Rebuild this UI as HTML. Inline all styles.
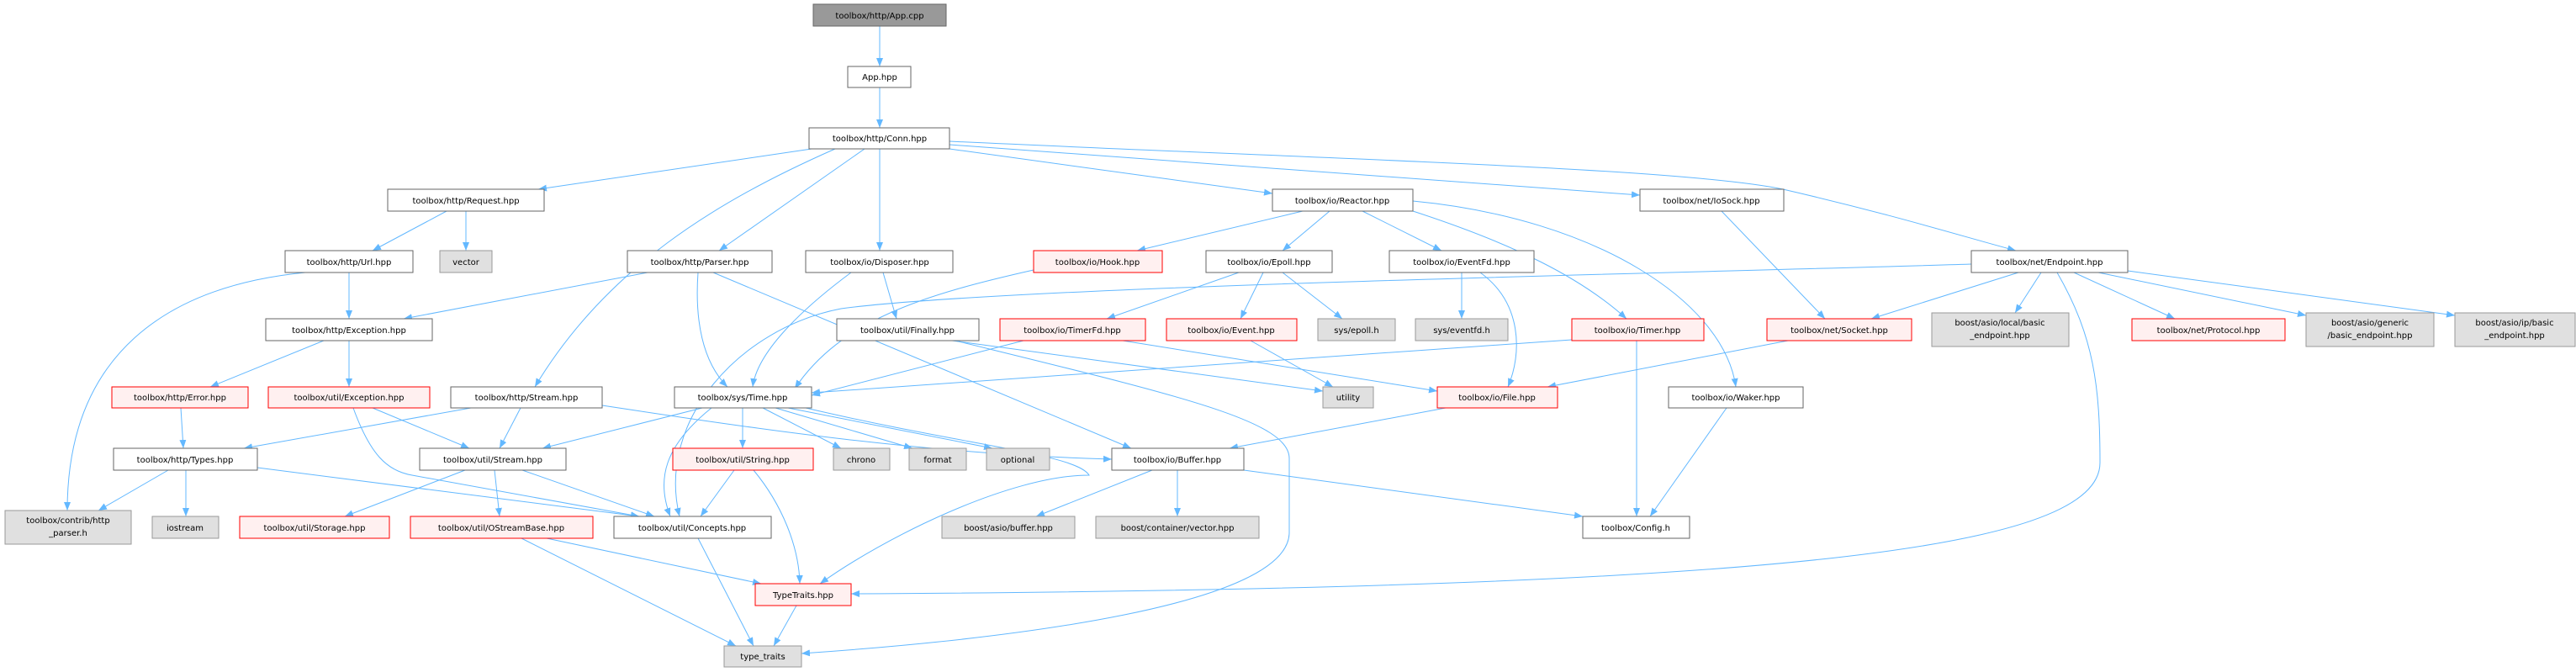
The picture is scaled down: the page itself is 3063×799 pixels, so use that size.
<!DOCTYPE html>
<html><head><meta charset="utf-8"><style>
html,body{margin:0;padding:0;background:#fff}
svg{display:block}
text{font-family:"DejaVu Sans","Liberation Sans",sans-serif;font-size:10px;fill:#000}
.w{fill:#fff;stroke:#666;stroke-width:1}
.g{fill:#e0e0e0;stroke:#999;stroke-width:1}
.r{fill:#fff0f0;stroke:#f00;stroke-width:1}
.e path{fill:none;stroke:#63b8ff;stroke-width:1}
</style></head><body>
<svg width="3063" height="799" viewBox="0 0 3063 799" xmlns="http://www.w3.org/2000/svg">
<defs><marker id="a" markerWidth="10" markerHeight="8" refX="10" refY="4" orient="auto" markerUnits="userSpaceOnUse"><path d="M0,0 L10,4 L0,8 Z" fill="#63b8ff"/></marker></defs>
<g class="e" marker-end="url(#a)">
<path d="M1046,31 L1046,79" marker-end="url(#a)"/>
<path d="M1046,104 L1046,152" marker-end="url(#a)"/>
<path d="M965,177 L640,225" marker-end="url(#a)"/>
<path d="M993,177 C850,240 720,320 636,460" marker-end="url(#a)"/>
<path d="M1028,177 L855,298" marker-end="url(#a)"/>
<path d="M1046,177 L1046,298" marker-end="url(#a)"/>
<path d="M1129,177 L1513,230" marker-end="url(#a)"/>
<path d="M1129,172 L1950,232" marker-end="url(#a)"/>
<path d="M1129,168 C1600,190 2000,200 2120,225 C2250,255 2330,280 2397,298" marker-end="url(#a)"/>
<path d="M531,251 L443,298" marker-end="url(#a)"/>
<path d="M554,251 L554,298" marker-end="url(#a)"/>
<path d="M415,324 L415,379" marker-end="url(#a)"/>
<path d="M363,324 C200,340 80,420 80,607" marker-end="url(#a)"/>
<path d="M770,324 L480,379" marker-end="url(#a)"/>
<path d="M830,324 C826,380 835,430 865,460" marker-end="url(#a)"/>
<path d="M848,324 L1345,533" marker-end="url(#a)"/>
<path d="M1012,324 C950,370 900,420 895,460" marker-end="url(#a)"/>
<path d="M1050,324 L1066,379" marker-end="url(#a)"/>
<path d="M1229,321 C1100,350 1000,380 945,462" marker-end="url(#a)"/>
<path d="M1473,324 L1316,379" marker-end="url(#a)"/>
<path d="M1502,324 L1475,379" marker-end="url(#a)"/>
<path d="M1525,324 L1596,379" marker-end="url(#a)"/>
<path d="M1738,324 L1738,379" marker-end="url(#a)"/>
<path d="M1760,324 C1810,360 1810,420 1793,460" marker-end="url(#a)"/>
<path d="M1549,251 L1352,298" marker-end="url(#a)"/>
<path d="M1581,251 L1525,298" marker-end="url(#a)"/>
<path d="M1620,251 L1714,298" marker-end="url(#a)"/>
<path d="M1680,251 C1800,290 1880,330 1934,379" marker-end="url(#a)"/>
<path d="M1680,239 C1900,260 2050,360 2064,460" marker-end="url(#a)"/>
<path d="M2047,251 L2170,379" marker-end="url(#a)"/>
<path d="M2400,324 L2225,379" marker-end="url(#a)"/>
<path d="M2427,324 L2396,372" marker-end="url(#a)"/>
<path d="M2446,324 C2490,400 2497,460 2497,550 C2497,650 2150,700 1012,706" marker-end="url(#a)"/>
<path d="M2466,324 L2586,379" marker-end="url(#a)"/>
<path d="M2495,324 L2742,375" marker-end="url(#a)"/>
<path d="M2530,322 L2919,375" marker-end="url(#a)"/>
<path d="M2344,314 C2000,325 1200,340 1000,367 C880,390 780,500 808,614" marker-end="url(#a)"/>
<path d="M1132,405 L1573,465" marker-end="url(#a)"/>
<path d="M1136,405 C1400,470 1533,500 1533,545 L1533,633 C1533,720 1200,760 953,777" marker-end="url(#a)"/>
<path d="M1217,405 L965,470" marker-end="url(#a)"/>
<path d="M1335,405 L1709,465" marker-end="url(#a)"/>
<path d="M1487,405 L1585,460" marker-end="url(#a)"/>
<path d="M1869,404 C1500,430 1100,455 965,467" marker-end="url(#a)"/>
<path d="M1946,405 L1946,614" marker-end="url(#a)"/>
<path d="M2053,485 L1962,614" marker-end="url(#a)"/>
<path d="M1719,485 L1462,533" marker-end="url(#a)"/>
<path d="M2126,405 L1840,460" marker-end="url(#a)"/>
<path d="M215,485 L218,533" marker-end="url(#a)"/>
<path d="M443,485 L558,533" marker-end="url(#a)"/>
<path d="M420,485 C440,540 460,560 490,565 L760,614" marker-end="url(#a)"/>
<path d="M385,405 L250,460" marker-end="url(#a)"/>
<path d="M415,405 L415,460" marker-end="url(#a)"/>
<path d="M560,485 L290,533" marker-end="url(#a)"/>
<path d="M619,485 L594,533" marker-end="url(#a)"/>
<path d="M716,482 C900,510 1100,540 1322,546" marker-end="url(#a)"/>
<path d="M835,485 L645,533" marker-end="url(#a)"/>
<path d="M846,485 C790,530 780,570 797,614" marker-end="url(#a)"/>
<path d="M883,485 L883,533" marker-end="url(#a)"/>
<path d="M907,485 L1000,533" marker-end="url(#a)"/>
<path d="M922,485 L1085,533" marker-end="url(#a)"/>
<path d="M937,485 L1180,533" marker-end="url(#a)"/>
<path d="M958,485 C1150,530 1280,540 1295,565 C1200,565 1050,640 975,694" marker-end="url(#a)"/>
<path d="M873,559 L833,614" marker-end="url(#a)"/>
<path d="M896,559 C930,600 950,650 951,694" marker-end="url(#a)"/>
<path d="M200,559 L117,607" marker-end="url(#a)"/>
<path d="M221,559 L221,614" marker-end="url(#a)"/>
<path d="M306,556 L760,614" marker-end="url(#a)"/>
<path d="M553,559 L410,614" marker-end="url(#a)"/>
<path d="M588,559 L594,614" marker-end="url(#a)"/>
<path d="M621,559 L778,614" marker-end="url(#a)"/>
<path d="M620,640 L875,768" marker-end="url(#a)"/>
<path d="M650,640 L905,694" marker-end="url(#a)"/>
<path d="M830,640 L896,768" marker-end="url(#a)"/>
<path d="M947,720 L920,768" marker-end="url(#a)"/>
<path d="M1370,559 L1232,614" marker-end="url(#a)"/>
<path d="M1400,559 L1400,614" marker-end="url(#a)"/>
<path d="M1479,559 L1882,614" marker-end="url(#a)"/>
</g>
<g text-anchor="middle">
<rect x="967" y="5" width="158" height="26" fill="#999" stroke="#666"/><text x="1046" y="22">toolbox/http/App.cpp</text>
<rect class="w" x="1008" y="79" width="75" height="25"/><text x="1046" y="95">App.hpp</text>
<rect class="w" x="962" y="152" width="167" height="25"/><text x="1046" y="168">toolbox/http/Conn.hpp</text>
<rect class="w" x="461" y="225" width="186" height="26"/><text x="554" y="242">toolbox/http/Request.hpp</text>
<rect class="w" x="339" y="298" width="152" height="26"/><text x="415" y="315">toolbox/http/Url.hpp</text>
<rect class="g" x="523" y="298" width="62" height="26"/><text x="554" y="315">vector</text>
<rect class="w" x="746" y="298" width="172" height="26"/><text x="832" y="315">toolbox/http/Parser.hpp</text>
<rect class="w" x="958" y="298" width="175" height="26"/><text x="1046" y="315">toolbox/io/Disposer.hpp</text>
<rect class="w" x="316" y="379" width="198" height="26"/><text x="415" y="396">toolbox/http/Exception.hpp</text>
<rect class="w" x="995" y="379" width="169" height="26"/><text x="1079" y="396">toolbox/util/Finally.hpp</text>
<rect class="r" x="133" y="460" width="162" height="25"/><text x="214" y="476">toolbox/http/Error.hpp</text>
<rect class="r" x="319" y="460" width="192" height="25"/><text x="415" y="476">toolbox/util/Exception.hpp</text>
<rect class="w" x="536" y="460" width="180" height="25"/><text x="626" y="476">toolbox/http/Stream.hpp</text>
<rect class="w" x="802" y="460" width="163" height="25"/><text x="883" y="476">toolbox/sys/Time.hpp</text>
<rect class="w" x="135" y="533" width="171" height="26"/><text x="220" y="550">toolbox/http/Types.hpp</text>
<rect class="w" x="499" y="533" width="174" height="26"/><text x="586" y="550">toolbox/util/Stream.hpp</text>
<rect class="r" x="800" y="533" width="167" height="26"/><text x="883" y="550">toolbox/util/String.hpp</text>
<rect class="g" x="991" y="533" width="67" height="26"/><text x="1024" y="550">chrono</text>
<rect class="g" x="1081" y="533" width="68" height="26"/><text x="1115" y="550">format</text>
<rect class="g" x="1173" y="533" width="75" height="26"/><text x="1210" y="550">optional</text>
<rect class="w" x="1322" y="533" width="157" height="26"/><text x="1400" y="550">toolbox/io/Buffer.hpp</text>
<rect class="g" x="6" y="607" width="150" height="40"/><text x="81" y="622">toolbox/contrib/http</text><text x="81" y="637">_parser.h</text>
<rect class="g" x="181" y="614" width="79" height="26"/><text x="220" y="631">iostream</text>
<rect class="r" x="285" y="614" width="178" height="26"/><text x="374" y="631">toolbox/util/Storage.hpp</text>
<rect class="r" x="488" y="614" width="217" height="26"/><text x="596" y="631">toolbox/util/OStreamBase.hpp</text>
<rect class="w" x="730" y="614" width="187" height="26"/><text x="823" y="631">toolbox/util/Concepts.hpp</text>
<rect class="r" x="898" y="694" width="114" height="26"/><text x="955" y="711">TypeTraits.hpp</text>
<rect class="g" x="861" y="768" width="92" height="25"/><text x="907" y="784">type_traits</text>
<rect class="w" x="1513" y="225" width="167" height="26"/><text x="1596" y="242">toolbox/io/Reactor.hpp</text>
<rect class="w" x="1950" y="225" width="171" height="26"/><text x="2035" y="242">toolbox/net/IoSock.hpp</text>
<rect class="r" x="1229" y="298" width="153" height="26"/><text x="1305" y="315">toolbox/io/Hook.hpp</text>
<rect class="w" x="1434" y="298" width="150" height="26"/><text x="1509" y="315">toolbox/io/Epoll.hpp</text>
<rect class="w" x="1652" y="298" width="172" height="26"/><text x="1738" y="315">toolbox/io/EventFd.hpp</text>
<rect class="r" x="1189" y="379" width="173" height="26"/><text x="1275" y="396">toolbox/io/TimerFd.hpp</text>
<rect class="r" x="1387" y="379" width="155" height="26"/><text x="1464" y="396">toolbox/io/Event.hpp</text>
<rect class="g" x="1567" y="379" width="92" height="26"/><text x="1613" y="396">sys/epoll.h</text>
<rect class="g" x="1683" y="379" width="110" height="26"/><text x="1738" y="396">sys/eventfd.h</text>
<rect class="r" x="1869" y="379" width="157" height="26"/><text x="1947" y="396">toolbox/io/Timer.hpp</text>
<rect class="g" x="1573" y="460" width="60" height="25"/><text x="1603" y="476">utility</text>
<rect class="r" x="1709" y="460" width="143" height="25"/><text x="1780" y="476">toolbox/io/File.hpp</text>
<rect class="w" x="1984" y="460" width="160" height="25"/><text x="2064" y="476">toolbox/io/Waker.hpp</text>
<rect class="g" x="1120" y="614" width="158" height="26"/><text x="1199" y="631">boost/asio/buffer.hpp</text>
<rect class="g" x="1303" y="614" width="194" height="26"/><text x="1400" y="631">boost/container/vector.hpp</text>
<rect class="w" x="1882" y="614" width="127" height="26"/><text x="1945" y="631">toolbox/Config.h</text>
<rect class="w" x="2344" y="298" width="186" height="26"/><text x="2437" y="315">toolbox/net/Endpoint.hpp</text>
<rect class="r" x="2101" y="379" width="172" height="26"/><text x="2187" y="396">toolbox/net/Socket.hpp</text>
<rect class="g" x="2297" y="372" width="163" height="40"/><text x="2378" y="387">boost/asio/local/basic</text><text x="2378" y="402">_endpoint.hpp</text>
<rect class="r" x="2535" y="379" width="182" height="26"/><text x="2626" y="396">toolbox/net/Protocol.hpp</text>
<rect class="g" x="2742" y="372" width="152" height="40"/><text x="2818" y="387">boost/asio/generic</text><text x="2818" y="402">/basic_endpoint.hpp</text>
<rect class="g" x="2919" y="372" width="143" height="40"/><text x="2990" y="387">boost/asio/ip/basic</text><text x="2990" y="402">_endpoint.hpp</text>
</g>
</svg>
</body></html>
